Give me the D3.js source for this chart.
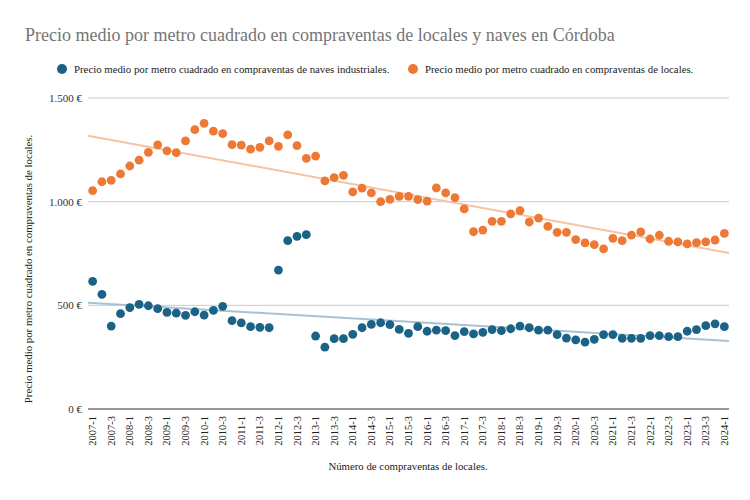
<!DOCTYPE html>
<html><head><meta charset="utf-8">
<script src="https://cdn.jsdelivr.net/npm/d3@7"></script>
<style>body{margin:0;background:#fff}svg text{font-family:"Liberation Serif","Times New Roman",serif}</style>
</head><body><svg id="c" width="750" height="500"></svg>
<script>
const years = d3.range(2007, 2025);
const quarters = [];
years.forEach(y => [1,2,3,4].forEach(q => { if (y < 2024 || q === 1) quarters.push(y + "-" + q); }));
const tickLabels = quarters.filter(q => q.endsWith("-1") || q.endsWith("-3"));
const navesValues = [616,553,400,460,489,505,498,484,466,462,452,469,453,476,495,426,415,397,394,392,670,812,833,841,352,298,339,339,360,392,408,416,407,384,365,397,375,380,378,354,373,362,370,383,378,387,400,392,380,380,359,342,333,323,336,359,359,341,341,341,354,354,349,349,375,383,402,411,397];
const localesValues = [1053,1096,1103,1134,1172,1200,1238,1274,1245,1236,1293,1347,1378,1340,1328,1275,1273,1253,1262,1293,1267,1322,1270,1209,1220,1100,1116,1127,1047,1065,1042,1000,1011,1026,1026,1010,1003,1066,1042,1019,965,855,863,905,905,941,957,902,921,881,852,852,817,801,793,772,823,812,839,854,820,838,809,806,796,802,806,815,847];
const yTicks = [0,500,1000,1500];
const seriesNames = ["Precio medio por metro cuadrado en compraventas de naves industriales.","Precio medio por metro cuadrado en compraventas de locales."];
const colors = ["#1b6287","#ee7935"];
const trendColors = ["#a7c3d3","#f6c3a5"];

const svg = d3.select("#c");
const m = {l:88, r:729, t:98, b:409};
const x = d3.scaleBand().domain(quarters).range([m.l, m.r]);
const y = d3.scaleLinear().domain([0,1500]).range([m.b, m.t]);
const fmt = v => d3.formatLocale({decimal:",",thousands:".",grouping:[3],currency:["",""]}).format(",")(v) + " €";

// title
svg.append("text").attr("x",25).attr("y",41).attr("fill","#757575").attr("font-size","18px").text("Precio medio por metro cuadrado en compraventas de locales y naves en Córdoba");

// legend
const legX = [62, 413];
seriesNames.forEach((n,i)=>{
  svg.append("circle").attr("cx",legX[i]).attr("cy",69).attr("r",5).attr("fill",colors[i]);
  svg.append("text").attr("x",legX[i]+12).attr("y",72.5).attr("font-size","10.8px").attr("fill","#222").text(n);
});

// grid
svg.append("g").selectAll("line").data(yTicks.filter(d=>d>0)).join("line")
  .attr("x1",m.l).attr("x2",m.r).attr("y1",d=>y(d)).attr("y2",d=>y(d)).attr("stroke","#cccccc").attr("stroke-width",1);
svg.append("line").attr("x1",m.l).attr("x2",m.r).attr("y1",y(0)).attr("y2",y(0)).attr("stroke","#333").attr("stroke-width",1);

// y labels
svg.append("g").selectAll("text").data(yTicks).join("text")
  .attr("x",82).attr("y",d=>y(d)+4).attr("text-anchor","end").attr("font-size","11px").attr("fill","#333").text(d=>fmt(d));

// x labels
svg.append("g").selectAll("text").data(tickLabels).join("text")
  .attr("transform",d=>`translate(${x(d)+x.bandwidth()/2+3.5},${y(0)+7}) rotate(-90)`)
  .attr("text-anchor","end").attr("font-size","10.5px").attr("fill","#222").text(d=>d);

// axis titles
svg.append("text").attr("x",408).attr("y",470).attr("text-anchor","middle").attr("font-size","10.8px").attr("fill","#222").text("Número de compraventas de locales.");
svg.append("text").attr("transform","translate(32,269) rotate(-90)").attr("text-anchor","middle").attr("font-size","10.8px").attr("fill","#222").text("Precio medio por metro cuadrado en compraventas de locales.");

// trend lines (linear regression)
const series = [navesValues, localesValues];
series.forEach((vals,i)=>{
  const n = vals.length, xs = d3.range(n);
  const mx = d3.mean(xs), my = d3.mean(vals);
  const b = d3.sum(xs, k=>(k-mx)*(vals[k]-my)) / d3.sum(xs, k=>(k-mx)*(k-mx));
  const a = my - b*mx;
  const step = x.step();
  const x0 = -0.5, x1 = n-0.5;
  svg.append("line")
    .attr("x1", x(quarters[0])+step/2 + x0*step).attr("y1", y(a+b*x0))
    .attr("x2", x(quarters[0])+step/2 + x1*step).attr("y2", y(a+b*x1))
    .attr("stroke",trendColors[i]).attr("stroke-width",2);
});

// dots
series.forEach((vals,i)=>{
  svg.append("g").selectAll("circle").data(vals).join("circle")
    .attr("cx",(d,k)=>x(quarters[k])+x.bandwidth()/2).attr("cy",d=>y(d)).attr("r",4.4).attr("fill",colors[i]);
});
</script></body></html>
